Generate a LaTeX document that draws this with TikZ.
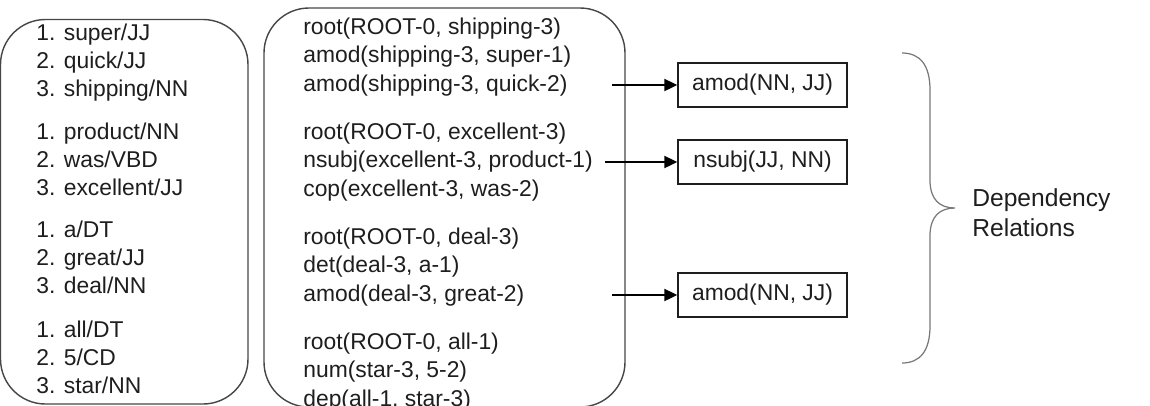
\documentclass[tikz,border=0pt]{standalone}
\usepackage{fontspec}
\setmainfont{Liberation Sans}
\usetikzlibrary{arrows.meta,positioning}
\definecolor{ink}{RGB}{30,30,30}
\definecolor{frame}{RGB}{70,70,70}
\definecolor{curl}{RGB}{120,120,120}
\tikzset{
  >={Triangle[length=2.6mm,width=2.4mm]},
  panel/.style={draw=frame,line width=0.8pt,rounded corners=9mm},
  word/.style={font=\fontsize{13}{15.6}\selectfont,text=ink,inner sep=0pt,anchor=base west},
  rel/.style={draw=ink,line width=0.8pt,minimum width=33.8mm,minimum height=8.8mm,
    font=\fontsize{13}{15.6}\selectfont,text=ink,inner sep=0pt},
  flow/.style={->,line width=1.2pt,draw=black},
  tag/.style={font=\fontsize{14}{17}\selectfont,text=ink,align=left,inner sep=0pt,anchor=west},
}
\newcommand{\comma}{,}
\newcommand{\tagsep}{/}

\begin{document}
\begin{tikzpicture}
  \useasboundingbox (0,0) rectangle (23,-8.1);
  % panels
  \node[panel,minimum width=49.5mm,minimum height=76.9mm] (words) at (2.485,-4.235) {};
  \node[panel,minimum width=72.2mm,minimum height=79.8mm] (deps) at (8.89,-4.15) {};
  % tagged words
  \foreach \y/\a/\b/\c [count=\g] in {
    0.80/super\tagsep JJ/quick\tagsep JJ/shipping\tagsep NN,
    2.78/product\tagsep NN/was\tagsep VBD/excellent\tagsep JJ,
    4.74/a\tagsep DT/great\tagsep JJ/deal\tagsep NN,
    6.74/all\tagsep DT/5\tagsep CD/star\tagsep NN}
  {
    \node[word] (w\g-1) at (0.72,-\y) {1. \a};
    \node[word] (w\g-2) at ([yshift=-5.6mm]w\g-1.base west) {2. \b};
    \node[word] (w\g-3) at ([yshift=-5.6mm]w\g-2.base west) {3. \c};
  }
  % parser output
  \foreach \y/\a/\b/\c [count=\g] in {
    0.68/root(ROOT-0\comma{} shipping-3)/amod(shipping-3\comma{} super-1)/amod(shipping-3\comma{} quick-2),
    2.78/root(ROOT-0\comma{} excellent-3)/nsubj(excellent-3\comma{} product-1)/cop(excellent-3\comma{} was-2),
    4.88/root(ROOT-0\comma{} deal-3)/det(deal-3\comma{} a-1)/amod(deal-3\comma{} great-2),
    6.98/root(ROOT-0\comma{} all-1)/num(star-3\comma{} 5-2)/dep(all-1\comma{} star-3)}
  {
    \node[word] (d\g-1) at (6.06,-\y) {\a};
    \node[word] (d\g-2) at ([yshift=-5.7mm]d\g-1.base west) {\b};
    \node[word] (d\g-3) at ([yshift=-5.7mm]d\g-2.base west) {\c};
  }
  % extracted relations
  \node[rel] (r1) at (15.25,-1.70) {amod(NN, JJ)};
  \node[rel] (r2) at (15.25,-3.24) {nsubj(JJ, NN)};
  \node[rel] (r3) at (15.25,-5.90) {amod(NN, JJ)};
  \coordinate (s1) at (12.24,-1.70);
  \coordinate (s2) at (12.10,-3.24);
  \coordinate (s3) at (12.24,-5.90);
  \foreach \i in {1,2,3}
    \draw[flow] (s\i) -- (r\i.west);
  % brace
  \coordinate (tip) at (19.10,-4.16);
  \draw[curl,line width=0.7pt] (18.04,-1.06) .. controls (18.40,-1.06) and (18.60,-1.30) .. (18.60,-1.80)
    -- (18.60,-3.60) .. controls (18.60,-4.00) and (18.80,-4.16) .. (tip)
    .. controls (18.80,-4.16) and (18.60,-4.32) .. (18.60,-4.72)
    -- (18.60,-6.52) .. controls (18.60,-7.02) and (18.40,-7.26) .. (18.04,-7.26);
  \node[tag] (dep) at ([xshift=3.4mm,yshift=-1mm]tip) {Dependency\\Relations};
\end{tikzpicture}
\end{document}
